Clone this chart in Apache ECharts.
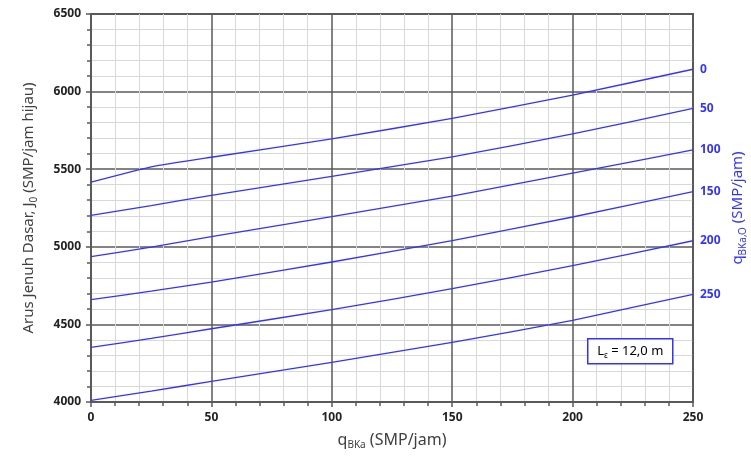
<!DOCTYPE html>
<html>
<head>
<meta charset="utf-8">
<script src="https://cdn.jsdelivr.net/npm/echarts@6/dist/echarts.min.js"></script>
<style>
  html, body { margin: 0; padding: 0; background: #fff; }
  #chart { width: 751px; height: 461px; }
</style>
</head>
<body>
<div id="chart"></div>
<script>
// q_BKa values (x axis)
const xValues = [0, 25, 50, 100, 150, 200, 250]
// one curve per q_BKa,O
const curveNames = ['0', '50', '100', '150', '200', '250']
const q0 = [5416, 5515, 5577, 5695, 5828, 5978, 6144]
const q50 = [5203, 5266, 5332, 5454, 5580, 5727, 5892]
const q100 = [4936, 4998, 5065, 5194, 5327, 5475, 5624]
const q150 = [4659, 4714, 4773, 4902, 5040, 5192, 5355]
const q200 = [4352, 4410, 4472, 4595, 4730, 4878, 5039]
const q250 = [4010, 4070, 4133, 4256, 4384, 4526, 4694]
const curves = [q0, q50, q100, q150, q200, q250]

const blue = '#3333ff'
const dark = '#5a5a5a'
const font = 'Noto Sans'

const titleRich = {
  n: { fontSize: 15, fontFamily: font, color: '#404040', lineHeight: 20 },
  sub: { fontSize: 10, fontFamily: font, color: '#404040', lineHeight: 10, verticalAlign: 'bottom' }
}
const xTitleRich = {
  n: { fontSize: 16, fontFamily: font, color: '#404040', lineHeight: 20 },
  sub: { fontSize: 10, fontFamily: font, color: '#404040', lineHeight: 10, verticalAlign: 'bottom' }
}
const blueRich = {
  n: { fontSize: 15, fontFamily: font, color: blue, lineHeight: 20 },
  sub: { fontSize: 10, fontFamily: font, color: blue, lineHeight: 10, verticalAlign: 'bottom' }
}

const series = curves.map((vals, i) => ({
  name: curveNames[i],
  type: 'line',
  data: vals.map((v, j) => [xValues[j], v]),
  smooth: 0.15,
  showSymbol: false,
  symbol: 'none',
  lineStyle: { color: blue, width: 1.3 },
  endLabel: {
    show: true,
    formatter: '{a}',
    color: blue,
    fontFamily: font,
    fontWeight: 'bold',
    fontSize: 12,
    distance: 7
  },
  emphasis: { disabled: true },
  animation: false
}))

const plain = (v) => String(v)

const option = {
  animation: false,
  grid: {
    left: 91,
    right: 58,
    top: 14,
    bottom: 59,
    containLabel: false,
    outerBoundsMode: 'none',
    show: true,
    borderColor: dark,
    borderWidth: 2
  },
  xAxis: {
    type: 'value',
    min: 0,
    max: 250,
    interval: 50,
    name: '{n|q}{sub|BKa}{n| (SMP/jam)}',
    nameLocation: 'middle',
    nameGap: 28,
    nameTextStyle: { rich: xTitleRich },
    axisLine: { show: true, lineStyle: { color: dark, width: 2 } },
    axisTick: { show: true, length: 5, lineStyle: { color: dark, width: 1.5 } },
    minorTick: { show: true, splitNumber: 5, length: 4, lineStyle: { color: dark, width: 1.5 } },
    axisLabel: { color: '#222', fontFamily: font, fontWeight: 'bold', fontSize: 12, margin: 10, formatter: plain },
    splitLine: { show: true, lineStyle: { color: dark, width: 1.5 } },
    minorSplitLine: { show: true, lineStyle: { color: '#d8d8d8', width: 1 } }
  },
  yAxis: [
    {
      type: 'value',
      min: 4000,
      max: 6500,
      interval: 500,
      name: '{n|Arus Jenuh Dasar, J}{sub|0}{n| (SMP/jam hijau)}',
      nameLocation: 'middle',
      nameRotate: 90,
      nameGap: 52,
      nameTextStyle: { rich: titleRich },
      axisLine: { show: true, lineStyle: { color: dark, width: 2 } },
      axisTick: { show: true, length: 5, lineStyle: { color: dark, width: 1.5 } },
      minorTick: { show: true, splitNumber: 5, length: 4, lineStyle: { color: dark, width: 1.5 } },
      axisLabel: { color: '#222', fontFamily: font, fontWeight: 'bold', fontSize: 12, margin: 10, formatter: plain },
      splitLine: { show: true, lineStyle: { color: dark, width: 1.5 } },
      minorSplitLine: { show: true, lineStyle: { color: '#d8d8d8', width: 1 } }
    },
    {
      type: 'value',
      position: 'right',
      min: 4000,
      max: 6500,
      interval: 500,
      name: '{n|q}{sub|BKa,O}{n| (SMP/jam)}',
      nameLocation: 'middle',
      nameRotate: 90,
      nameGap: 35,
      nameTextStyle: { rich: blueRich },
      axisLine: { show: false },
      axisTick: { show: false },
      axisLabel: { show: false },
      splitLine: { show: false }
    }
  ],
  graphic: [
    {
      type: 'group',
      left: 587,
      top: 338,
      z: 100,
      children: [
        {
          type: 'rect',
          z: 100,
          shape: { x: 0, y: 0, width: 85, height: 25 },
          style: { fill: '#fff', stroke: blue, lineWidth: 1.5 }
        },
        {
          type: 'text',
          z: 101,
          x: 42.5,
          y: 12.5,
          style: {
            text: '{n|L}{sub|ε}{n| = 12,0 m}',
            align: 'center',
            verticalAlign: 'middle',
            rich: {
              n: { fontSize: 13, fontFamily: font, color: blue, lineHeight: 17 },
              sub: { fontSize: 8, fontFamily: font, color: blue, lineHeight: 8, verticalAlign: 'bottom' }
            }
          }
        }
      ]
    }
  ],
  series: series
}

const myChart = echarts.init(document.getElementById('chart'))
myChart.setOption(option, true)
window.addEventListener('resize', () => {
  myChart.resize()
})
</script>
</body>
</html>
